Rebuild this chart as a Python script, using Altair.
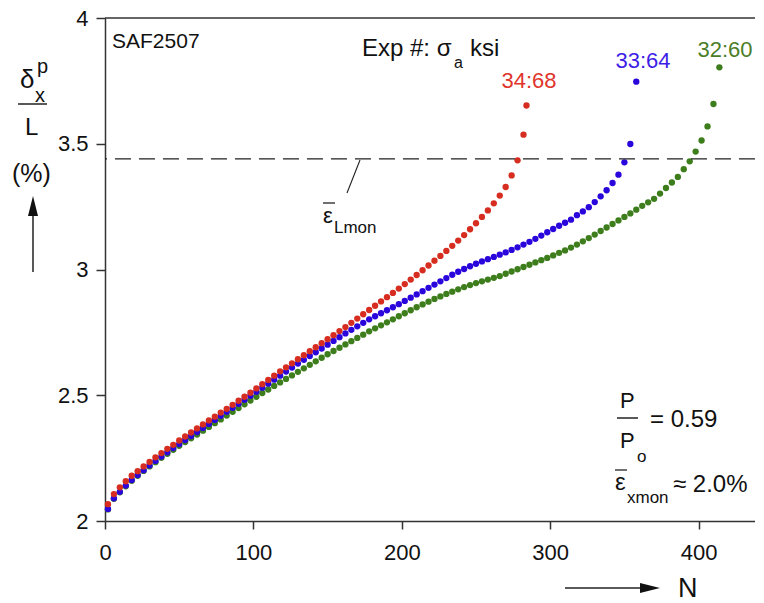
import altair as alt
import pandas as pd

# ---------------- data ----------------
EXPS = ["32:60", "33:64", "34:68"]
COLORS = ["#3d7d1c", "#2a06dc", "#d62d20"]
LABEL_COLORS = ["#4b7d28", "#3e1ee6", "#e0352b"]

N_RED = [2, 6, 10, 14, 18, 22, 26, 30, 34, 38, 42, 46, 50, 54, 58, 62, 66, 70, 74, 78,
         82, 86, 90, 94, 98, 102, 106, 110, 114, 118, 122, 126, 130, 134, 138, 142, 146,
         150, 154, 158, 162, 166, 170, 174, 178, 182, 186, 190, 194, 198, 202, 206, 210,
         214, 218, 222, 226, 230, 234, 238, 242, 246, 250, 254, 258, 262, 266, 270, 274,
         278, 282, 284]
V_RED = [2.067, 2.107, 2.134, 2.158, 2.180, 2.198, 2.217, 2.235, 2.253, 2.270,
         2.287, 2.303, 2.320, 2.336, 2.352, 2.368, 2.384, 2.400, 2.415, 2.431,
         2.446, 2.462, 2.478, 2.494, 2.510, 2.527, 2.544, 2.561, 2.578, 2.595,
         2.611, 2.627, 2.643, 2.659, 2.675, 2.691, 2.707, 2.723, 2.739, 2.755,
         2.771, 2.788, 2.805, 2.822, 2.839, 2.856, 2.873, 2.890, 2.907, 2.924,
         2.942, 2.960, 2.978, 2.997, 3.016, 3.035, 3.054, 3.074, 3.094, 3.115,
         3.137, 3.160, 3.184, 3.209, 3.235, 3.263, 3.294, 3.328, 3.374, 3.434,
         3.536, 3.652]

N_BLUE = [2, 6, 10, 14, 18, 22, 26, 30, 34, 38, 42, 46, 50, 54, 58, 62, 66, 70, 74, 78,
          82, 86, 90, 94, 98, 102, 106, 110, 114, 118, 122, 126, 130, 134, 138, 142, 146,
          150, 154, 158, 162, 166, 170, 174, 178, 182, 186, 190, 194, 198, 202, 206, 210,
          214, 218, 222, 226, 230, 234, 238, 242, 246, 250, 254, 258, 262, 266, 270, 274,
          278, 282, 286, 290, 294, 298, 302, 306, 310, 314, 318, 322, 326, 330, 334, 338,
          342, 346, 350, 354, 358]
V_BLUE = [2.048, 2.090, 2.116, 2.141, 2.163, 2.183, 2.202, 2.221, 2.239, 2.256,
          2.273, 2.290, 2.306, 2.322, 2.338, 2.354, 2.370, 2.386, 2.402, 2.418,
          2.434, 2.450, 2.466, 2.482, 2.498, 2.514, 2.530, 2.546, 2.562, 2.578,
          2.594, 2.610, 2.626, 2.641, 2.656, 2.671, 2.686, 2.701, 2.716, 2.731,
          2.746, 2.760, 2.774, 2.788, 2.802, 2.814, 2.826, 2.838, 2.850, 2.862,
          2.875, 2.888, 2.901, 2.914, 2.927, 2.940, 2.953, 2.966, 2.979, 2.991,
          3.002, 3.013, 3.023, 3.032, 3.041, 3.050, 3.059, 3.068, 3.078, 3.088,
          3.099, 3.110, 3.122, 3.135, 3.148, 3.161, 3.174, 3.186, 3.198, 3.216,
          3.231, 3.248, 3.268, 3.291, 3.315, 3.344, 3.377, 3.426, 3.499, 3.747]

N_GREEN = [2, 6, 10, 14, 18, 22, 26, 30, 34, 38, 42, 46, 50, 54, 58, 62, 66, 70, 74, 78,
           82, 86, 90, 94, 98, 102, 106, 110, 114, 118, 122, 126, 130, 134, 138, 142, 146,
           150, 154, 158, 162, 166, 170, 174, 178, 182, 186, 190, 194, 198, 202, 206, 210,
           214, 218, 222, 226, 230, 234, 238, 242, 246, 250, 254, 258, 262, 266, 270, 274,
           278, 282, 286, 290, 294, 298, 302, 306, 310, 314, 318, 322, 326, 330, 334, 338,
           342, 346, 350, 354, 358, 362, 366, 370, 374, 378, 382, 386, 390, 394, 398, 402,
           406, 410, 414]
V_GREEN = [2.046, 2.088, 2.114, 2.138, 2.160, 2.180, 2.199, 2.217, 2.234, 2.251,
           2.267, 2.283, 2.299, 2.314, 2.329, 2.344, 2.359, 2.374, 2.389, 2.404,
           2.419, 2.434, 2.449, 2.464, 2.479, 2.494, 2.509, 2.523, 2.537, 2.551,
           2.565, 2.579, 2.593, 2.607, 2.621, 2.635, 2.649, 2.663, 2.676, 2.689,
           2.702, 2.715, 2.728, 2.741, 2.754, 2.766, 2.778, 2.790, 2.802, 2.814,
           2.826, 2.838, 2.850, 2.861, 2.872, 2.883, 2.893, 2.903, 2.912, 2.921,
           2.930, 2.938, 2.946, 2.953, 2.960, 2.967, 2.974, 2.983, 2.992, 3.001,
           3.010, 3.019, 3.028, 3.037, 3.046, 3.056, 3.066, 3.076, 3.087, 3.099,
           3.112, 3.125, 3.139, 3.153, 3.167, 3.181, 3.195, 3.209, 3.223, 3.238,
           3.253, 3.267, 3.281, 3.302, 3.324, 3.346, 3.368, 3.399, 3.430, 3.469,
           3.513, 3.569, 3.658, 3.804]

X_TICKS = [0, 100, 200, 300, 400]
Y_TICKS = [2, 2.5, 3, 3.5, 4]
MONOTONIC_LEVEL = [3.44]
TOP_LEVEL = [4]

# ---------------- build table ----------------
rows = []
for name, ns, vs in [("32:60", N_GREEN, V_GREEN), ("33:64", N_BLUE, V_BLUE), ("34:68", N_RED, V_RED)]:
    for n, v in zip(ns, vs):
        rows.append({"exp": name, "N": n, "v": v})
df = pd.DataFrame(rows)

W, H = 650, 503
FONT = "Liberation Sans"
INK = "#111111"
AX = "#333333"

xscale = alt.Scale(domain=[0, 438], nice=False, zero=False)
yscale = alt.Scale(domain=[2, 4], nice=False, zero=False)

xaxis = alt.Axis(values=X_TICKS, format="d", title=None, grid=False, tickSize=8, tickWidth=1.5,
                 tickColor=AX, domainColor=AX, domainWidth=1.5, labelFontSize=22, labelFont=FONT,
                 labelColor=INK, labelPadding=13, labelFlush=False, labelOverlap=False)
yaxis = alt.Axis(values=Y_TICKS, format="~g", title=None, grid=False, tickSize=9, tickWidth=1.5,
                 tickColor=AX, domainColor=AX, domainWidth=1.5, labelFontSize=22, labelFont=FONT,
                 labelColor=INK, labelPadding=8, labelOverlap=False)

points = alt.Chart(df).mark_circle(size=40, opacity=1).encode(
    x=alt.X("N:Q", scale=xscale, axis=xaxis),
    y=alt.Y("v:Q", scale=yscale, axis=yaxis),
    color=alt.Color("exp:N", scale=alt.Scale(domain=EXPS, range=COLORS), legend=None),
)

dash = alt.Chart(pd.DataFrame({"v": MONOTONIC_LEVEL})).mark_rule(
    strokeDash=[16, 8], color="#222222", strokeWidth=1.4
).encode(y=alt.Y("v:Q", scale=yscale))

top = alt.Chart(pd.DataFrame({"v": TOP_LEVEL})).mark_rule(
    color=AX, strokeWidth=1.5
).encode(y=alt.Y("v:Q", scale=yscale))

data_layer = alt.layer(points, dash, top)

# ---------------- annotations (layout, pixel positions inside plot area) ----------------
txt_left = pd.DataFrame([
    {"t": "SAF2507", "px": 7, "py": 30, "fs": 21},
    {"t": "Exp #: σ", "px": 257, "py": 38, "fs": 24},
    {"t": "a", "px": 349, "py": 50, "fs": 16},
    {"t": "ksi", "px": 365, "py": 38, "fs": 24},
    {"t": "ε", "px": 218, "py": 205, "fs": 22},
    {"t": "Lmon", "px": 229, "py": 215, "fs": 17},
    {"t": "P", "px": 515, "py": 390, "fs": 22},
    {"t": "= 0.59", "px": 545, "py": 409, "fs": 24},
    {"t": "P", "px": 515, "py": 430, "fs": 22},
    {"t": "o", "px": 532, "py": 444, "fs": 17},
    {"t": "ε", "px": 510, "py": 472, "fs": 24},
    {"t": "xmon", "px": 522, "py": 485, "fs": 17},
    {"t": "≈ 2.0%", "px": 568, "py": 474, "fs": 24},
    {"t": "N", "px": 573, "py": 579, "fs": 27},
    {"t": "δ", "px": -85, "py": 70, "fs": 26},
    {"t": "p", "px": -68, "py": 55, "fs": 20},
    {"t": "x", "px": -70, "py": 84, "fs": 20},
    {"t": "L", "px": -80, "py": 117, "fs": 24},
    {"t": "(%)", "px": -93, "py": 164, "fs": 25},
])
txt_center = pd.DataFrame([
    {"t": EXPS[2], "px": 424, "py": 70, "fs": 22, "c": LABEL_COLORS[2]},
    {"t": EXPS[1], "px": 538, "py": 50, "fs": 22, "c": LABEL_COLORS[1]},
    {"t": EXPS[0], "px": 620, "py": 39, "fs": 22, "c": LABEL_COLORS[0]},
])
rules = pd.DataFrame([
    {"x": -87, "y": 86, "x2": -58, "y2": 86, "w": 1.5},
    {"x": 218, "y": 185, "x2": 230, "y2": 185, "w": 1.3},
    {"x": 512, "y": 400, "x2": 533, "y2": 400, "w": 1.5},
    {"x": 510, "y": 452, "x2": 522, "y2": 452, "w": 1.3},
    {"x": 255, "y": 142, "x2": 242, "y2": 175, "w": 1.1},
    {"x": 460, "y": 570, "x2": 546, "y2": 570, "w": 1.5},
    {"x": -72, "y": 254, "x2": -72, "y2": 188, "w": 1.5},
])
head_right = pd.DataFrame([{"x": 545, "y": 570}])
head_up = pd.DataFrame([{"x": -72, "y": 188}])

def px(f):
    return alt.X(f, type="quantitative", scale=None, axis=None)

def py(f):
    return alt.Y(f, type="quantitative", scale=None, axis=None)

t_left = alt.Chart(txt_left).mark_text(font=FONT, align="left", baseline="alphabetic", color=INK).encode(
    x=px("px"), y=py("py"), text="t:N", size=alt.Size("fs:Q", scale=None, legend=None))
t_center = alt.Chart(txt_center).mark_text(font=FONT, align="center", baseline="alphabetic").encode(
    x=px("px"), y=py("py"), text="t:N", size=alt.Size("fs:Q", scale=None, legend=None),
    color=alt.Color("c:N", scale=None, legend=None))
r_layer = alt.Chart(rules).mark_rule(color="#222222").encode(
    x=px("x"), y=py("y"), x2="x2:Q", y2="y2:Q",
    strokeWidth=alt.StrokeWidth("w:Q", scale=None, legend=None))
h_right = alt.Chart(head_right).mark_point(
    shape="M-1,-0.5L1,0L-1,0.5Z", filled=True, size=400, color="#111111", opacity=1
).encode(x=px("x"), y=py("y"))
h_up = alt.Chart(head_up).mark_point(
    shape="M-0.5,1L0,-1L0.5,1Z", filled=True, size=400, color="#111111", opacity=1
).encode(x=px("x"), y=py("y"))

chart = alt.layer(data_layer, r_layer, h_right, h_up, t_left, t_center).resolve_scale(
    x="independent", y="independent"
).properties(
    width=W, height=H,
    autosize=alt.AutoSizeParams(type="none"),
    padding={"left": 97, "top": 10, "right": 0, "bottom": 88},
    background="white",
).configure_view(stroke=None)

chart.save("out.html", embed_options={"renderer": "svg", "actions": False})
